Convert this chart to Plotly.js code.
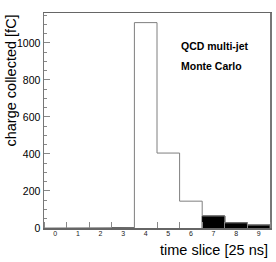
<!DOCTYPE html>
<html><head><meta charset="utf-8">
<script src="https://cdn.plot.ly/plotly-3.0.1.min.js"></script>
<style>html,body{margin:0;padding:0;background:#fff}</style>
</head><body>
<div id="chart" style="width:276px;height:262px"></div>
<script>
const timeSlices = [0, 1, 2, 3, 4, 5, 6, 7, 8, 9];
const chargeAll = [0, 0, 0, 2, 1110, 405, 145, 65, 28, 16];
const filledSlices = [3, 7, 8, 9];
const filledCharge = [2, 65, 28, 16];
const yTickVals = [0, 200, 400, 600, 800, 1000];

// step outline from bin edges
const stepX = [], stepY = [];
timeSlices.forEach((s, i) => {
  stepX.push(s - 0.5, s + 0.5);
  stepY.push(chargeAll[i], chargeAll[i]);
});
const sx = [stepX[0]].concat(stepX, [stepX[stepX.length-1]]);
const sy = [0].concat(stepY, [0]);

const font = "Liberation Sans, Arial, sans-serif";
const traces = [
  {type:'bar', x: filledSlices, y: filledCharge, width: 1,
   marker:{color:'#000', line:{color:'#000', width:1}}, hoverinfo:'skip'},
  {type:'scatter', mode:'lines', x: sx, y: sy,
   line:{color:'#7f7f7f', width:1}, hoverinfo:'skip'}
];
const layout = {
  width: 276, height: 262,
  margin: {l:44, r:6, t:13, b:34},
  paper_bgcolor:'#fff', plot_bgcolor:'#fff',
  showlegend:false,
  font:{family:font, color:'#000'},
  xaxis:{range:[-0.5, 9.5], tickvals: timeSlices, ticks:'', showgrid:false, zeroline:false,
    tickfont:{size:7, color:'#222'}, ticklabelstandoff:-2, showline:true, mirror:true, linecolor:'#666', linewidth:1.5,
    minor:{tick0:0.5, dtick:1, ticks:'inside', ticklen:6, tickcolor:'#888', showgrid:false}},
  yaxis:{range:[0, 1162], tickvals: yTickVals, ticks:'inside', ticklen:6, tickcolor:'#888',
    showgrid:false, zeroline:false, tickfont:{size:10.5, color:'#000'},
    showline:true, mirror:true, linecolor:'#777', linewidth:1.5,
    minor:{dtick:50, ticks:'inside', ticklen:3, tickcolor:'#888', showgrid:false}},
  annotations:[
    {xref:'paper', yref:'paper', x:-0.148, y:1.0, xanchor:'center', yanchor:'top', textangle:-90,
     text:'charge collected [fC]', showarrow:false, font:{size:14.5, family:font}},
    {xref:'paper', yref:'paper', x:1.0, y:-0.102, xanchor:'right', yanchor:'middle',
     text:'time slice [25 ns]', showarrow:false, font:{size:14.5, family:font}},
    {xref:'paper', yref:'paper', x:0.596, y:0.846, xanchor:'left', yanchor:'middle',
     text:'<b>QCD multi-jet</b>', showarrow:false, font:{size:10.5, family:font}},
    {xref:'paper', yref:'paper', x:0.596, y:0.755, xanchor:'left', yanchor:'middle',
     text:'<b>Monte Carlo</b>', showarrow:false, font:{size:10.5, family:font}}
  ]
};
Plotly.newPlot('chart', traces, layout, {displayModeBar:false, staticPlot:true});
</script>
</body></html>
